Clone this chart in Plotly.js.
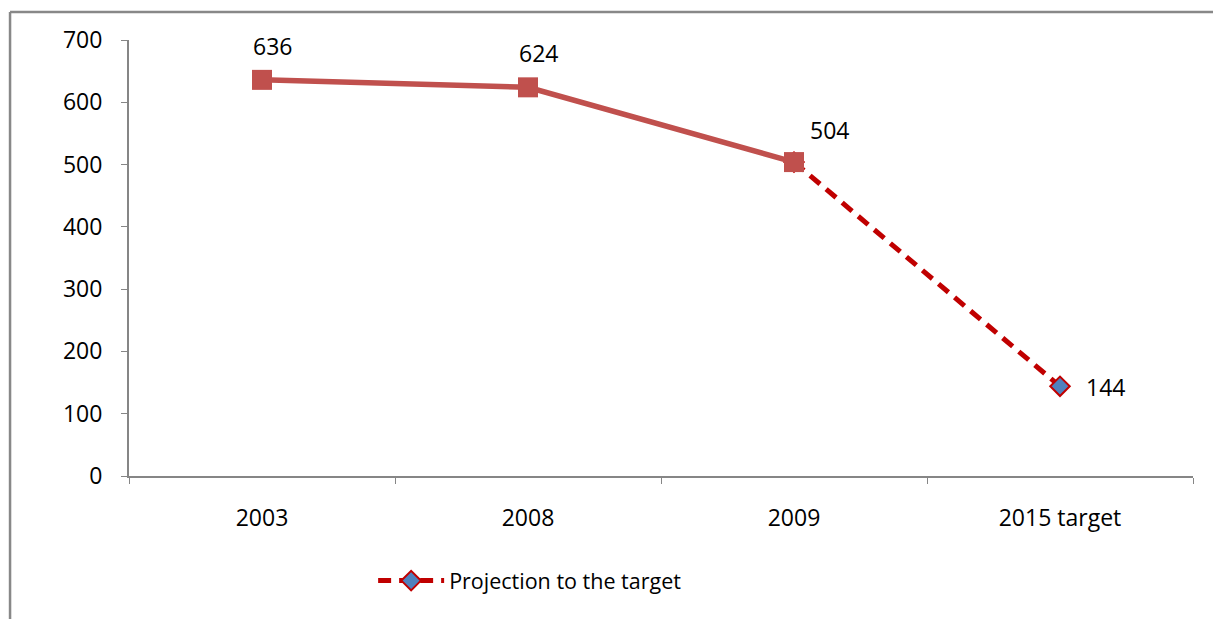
<!DOCTYPE html>
<html>
<head>
<meta charset="utf-8">
<script src="https://cdn.plot.ly/plotly-3.0.1.min.js"></script>
<style>
html,body{margin:0;padding:0;background:#fff;}
#chart{width:1213px;height:619px;}
</style>
</head>
<body>
<div id="chart"></div>
<script>
// Data
const categories = ["2003", "2008", "2009", "2015 target"];
const actualCats = ["2003", "2008", "2009"];
const actualValues = [636, 624, 504];
const projectionCats = ["2009", "2015 target"];
const projectionValues = [504, 144];
const yTicks = [0, 100, 200, 300, 400, 500, 600, 700];

const FONT = "Open Sans, Noto Sans, sans-serif";

const traces = [
  {
    x: projectionCats, y: projectionValues,
    type: "scatter", mode: "lines+markers",
    name: "Projection to the target",
    line: {color: "#C00000", width: 5, dash: "13px,8px"},
    marker: {symbol: "diamond", size: 15, color: "#4F81BD", line: {color: "#C00000", width: 2}},
    showlegend: true, hoverinfo: "skip"
  },
  {
    x: actualCats, y: actualValues,
    type: "scatter", mode: "lines+markers",
    name: "Actual",
    line: {color: "#C0504D", width: 5.5},
    marker: {symbol: "square", size: 20, color: "#C0504D"},
    showlegend: false, hoverinfo: "skip"
  }
];

const annotations = [];
actualCats.forEach((c, i) => {
  const last = i === actualCats.length - 1;
  annotations.push({
    x: categories.indexOf(c), y: actualValues[i], xref: "x", yref: "y",
    text: String(actualValues[i]), showarrow: false,
    xshift: last ? 35 : 10, yshift: last ? 32 : 34,
    font: {family: FONT, size: 23, color: "#000"}
  });
});
annotations.push({
  x: categories.indexOf(projectionCats[1]), y: projectionValues[1], xref: "x", yref: "y",
  text: String(projectionValues[1]), showarrow: false,
  xshift: 45, yshift: -1,
  font: {family: FONT, size: 23, color: "#000"}
});

const frame = "#888888";
const layout = {
  width: 1213, height: 619,
  margin: {l: 129, r: 20, t: 40, b: 143},
  paper_bgcolor: "#fff", plot_bgcolor: "#fff",
  font: {family: FONT, size: 23, color: "#000"},
  xaxis: {
    type: "category", categoryorder: "array", categoryarray: categories,
    range: [-0.5, 3.5],
    showline: true, linecolor: "#868686", linewidth: 2,
    ticks: "outside", tickson: "boundaries", ticklen: 6, tickcolor: "#868686", tickwidth: 1,
    showgrid: false, zeroline: false,
    ticklabelstandoff: 20,
    tickfont: {family: FONT, size: 23, color: "#000"}
  },
  yaxis: {
    range: [0, 700], tickmode: "array", tickvals: yTicks, ticktext: yTicks.map(String),
    showline: true, linecolor: "#868686", linewidth: 2,
    ticks: "outside", ticklen: 6, tickcolor: "#868686", tickwidth: 1,
    showgrid: false, zeroline: false,
    ticklabelstandoff: 14,
    tickfont: {family: FONT, size: 23, color: "#000"}
  },
  legend: {
    orientation: "h", x: 0.377, xanchor: "center", y: -0.24, yanchor: "middle",
    itemwidth: 66,
    font: {family: FONT, size: 21.5, color: "#000"},
    bgcolor: "rgba(0,0,0,0)"
  },
  annotations: annotations,
  shapes: [
    {type: "line", xref: "paper", yref: "paper", x0: -0.1118, x1: -0.1118, y0: 1.0642, y1: -0.35, line: {color: frame, width: 2.5}},
    {type: "line", xref: "paper", yref: "paper", x0: -0.1118, x1: 1.03, y0: 1.0642, y1: 1.0642, line: {color: frame, width: 2.5}}
  ]
};

Plotly.newPlot("chart", traces, layout, {displayModeBar: false, staticPlot: true});
</script>
</body>
</html>
